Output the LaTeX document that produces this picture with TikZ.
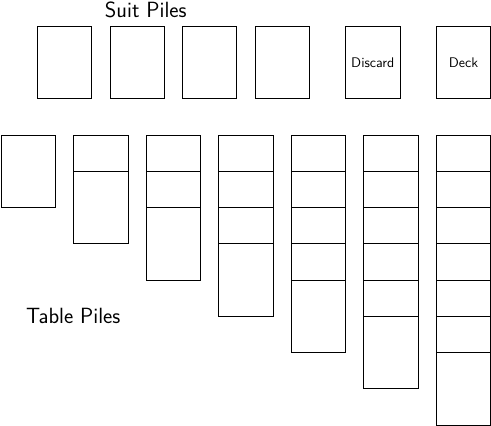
\documentclass[tikz,border=0pt,11pt]{standalone}
\usepackage{tikz}
\begin{document}
\begin{tikzpicture}[
    card/.style={draw,fill=white,line width=0.6pt,minimum width=1.5cm,minimum height=2cm,inner sep=0pt,anchor=north west,font=\sffamily},
    title/.style={font=\sffamily\LARGE}
  ]
    \useasboundingbox (-0.02,-8.02) rectangle (13.52,3.71);
    \node[title] (suittitle) at (4,3.45) {Suit Piles};
    \foreach \i in {1,...,4}
      \node[card] (suit\i) at ({2*\i-1},3) {};
    \node[card] (discard) at (9.5,3) {Discard};
    \node[card] (deck) at (12,3) {Deck};
    \foreach \c in {0,...,6}
      \foreach \r in {0,...,\c}
        \node[card] (table-\c-\r) at ({2*\c},-\r) {};
    \node[title] (tabletitle) at (2,-5) {Table Piles};
  \end{tikzpicture}
\end{document}
